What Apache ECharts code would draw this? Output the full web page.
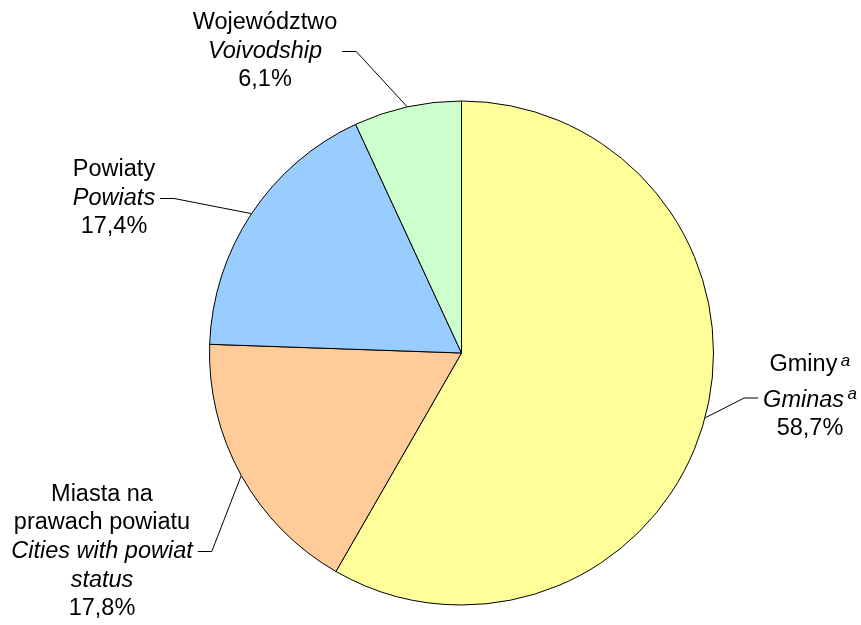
<!DOCTYPE html>
<html>
<head>
<meta charset="utf-8">
<script src="https://cdn.jsdelivr.net/npm/echarts@6/dist/echarts.min.js"></script>
<style>
  html, body { margin: 0; padding: 0; background: #fff; }
  #chart { width: 861px; height: 625px; }
</style>
</head>
<body>
<div id="chart"></div>
<script>
// Data
const namesPL = ['Gminy', 'Miasta na\nprawach powiatu', 'Powiaty', 'Województwo'];
const namesEN = ['Gminas', 'Cities with powiat\nstatus', 'Powiats', 'Voivodship'];
const footnotes = ['a', '', '', ''];
// Percentages printed in the labels
const printedPct = [58.7, 17.8, 17.4, 6.1];
// Slice shares as drawn in the picture (read from the slice boundaries)
const sliceShares = [58.3, 17.25, 17.55, 6.9];
const colors = ['#FFFF99', '#FFCC99', '#99CCFF', '#CCFFCC'];

// Label placement (label block centre) and which side the leader line attaches
const labelPos = [
  { x: 810, y: 398, side: 'left' },
  { x: 102, y: 551.5, side: 'right' },
  { x: 114, y: 198.5, side: 'right' },
  { x: 265, y: 51.5, side: 'right' }
];

const FONT = "'Liberation Sans', Arial, sans-serif";
const FS = 23.5;
const LH = 28.5;

function fmtPct(v) { return v.toFixed(1).replace('.', ',') + '%'; }

function wrapLines(str, style) {
  return str.split('\n').map(s => '{' + style + '|' + s + '}');
}

const data = sliceShares.map((v, i) => ({
  value: v,
  name: namesPL[i].replace('\n', ' '),
  itemStyle: { color: colors[i] }
}));

const chart = echarts.init(document.getElementById('chart'), null, { renderer: 'canvas' });
chart.setOption({
  animation: false,
  backgroundColor: '#ffffff',
  series: [{
    type: 'pie',
    center: [461.5, 353],
    radius: 252,
    startAngle: 90,
    clockwise: true,
    avoidLabelOverlap: false,
    data: data,
    itemStyle: { borderColor: '#000', borderWidth: 1 },
    emphasis: { disabled: true },
    label: {
      show: true,
      position: 'outside',
      align: 'center',
      fontFamily: FONT,
      fontSize: FS,
      lineHeight: LH,
      color: '#000',
      formatter: function (p) {
        const i = p.dataIndex;
        const pl = wrapLines(namesPL[i], footnotes[i] ? 'plTop' : 'pl');
        const en = wrapLines(namesEN[i], 'en');
        if (footnotes[i]) {
          pl[pl.length - 1] += '{sp| }{supTop|' + footnotes[i] + '}{gap| }';
          en[en.length - 1] += '{sp| }{sup|' + footnotes[i] + '}';
        }
        return pl.concat(en).concat(['{pct|' + fmtPct(printedPct[i]) + '}']).join('\n');
      },
      rich: {
        pl: { fontFamily: FONT, fontSize: FS, lineHeight: LH, color: '#000' },
        plTop: { fontFamily: FONT, fontSize: FS, lineHeight: LH, color: '#000', verticalAlign: 'top' },
        en: { fontFamily: FONT, fontSize: FS, lineHeight: LH, fontStyle: 'italic', color: '#000' },
        pct: { fontFamily: FONT, fontSize: FS, lineHeight: LH, color: '#000' },
        sp: { fontFamily: FONT, fontSize: 12, lineHeight: LH },
        gap: { fontFamily: FONT, fontSize: 1, lineHeight: 33 },
        supTop: { fontFamily: FONT, fontSize: 17, lineHeight: 8, fontStyle: 'italic', color: '#000', verticalAlign: 'top' },
        sup: { fontFamily: FONT, fontSize: 17, lineHeight: 12, fontStyle: 'italic', color: '#000', verticalAlign: 'top' }
      }
    },
    labelLine: {
      show: true,
      length: 20,
      length2: 15,
      smooth: false,
      lineStyle: { color: '#000', width: 1 }
    },
    labelLayout: function (params) {
      const i = params.dataIndex;
      const pos = labelPos[i];
      const w = params.labelRect.width;
      const edge = params.labelLinePoints ? params.labelLinePoints[0] : [pos.x, pos.y];
      const dir = pos.side === 'left' ? -1 : 1;
      const textEnd = pos.x + dir * (w / 2 + 5);
      const elbow = textEnd + dir * 14;
      return {
        x: pos.x,
        y: pos.y,
        align: 'center',
        verticalAlign: 'middle',
        labelLinePoints: [edge, [elbow, pos.y], [textEnd, pos.y]]
      };
    }
  }]
});
</script>
</body>
</html>
